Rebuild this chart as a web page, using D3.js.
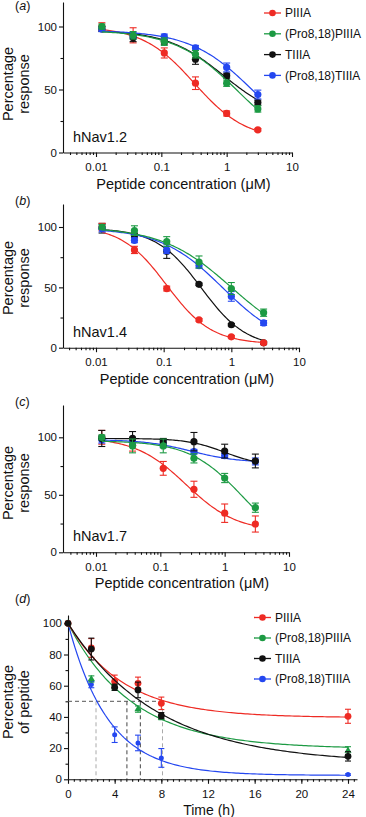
<!DOCTYPE html>
<html>
<head>
<meta charset="utf-8">
<script src="https://cdn.jsdelivr.net/npm/d3@7"></script>
<style>
  body { margin: 0; background: #fff; }
  svg { display: block; font-family: "Liberation Sans", Arial, sans-serif; }
  .axis path, .axis line { stroke: #111; stroke-width: 1.1; }
  .axis text { font-size: 11.5px; fill: #111; }
</style>
</head>
<body>
<div id="main"></div>
<script>
// ---- data ----
var seriesNames = ["PIIIA", "(Pro8,18)PIIIA", "TIIIA", "(Pro8,18)TIIIA"];
var seriesColors = ["#ee2b24", "#1c9a43", "#111111", "#2447f0"];

// peptide concentrations (uM)
var conc = [0.0123, 0.037, 0.111, 0.333, 1, 3];

// hNav1.2 : mean and error (% response), order as seriesNames
var nav12Mean = [[100, 93, 79, 55, 31, 18], [100, 93, 88, 78, 55, 34.6], [98, 91, 88, 74, 61, 39.6], [98, 93, 92, 83, 67.5, 46]];
var nav12Err = [[3, 6, 4, 5, 2, 1], [2, 3, 3, 3, 2.5, 2.5], [2, 3, 2, 4, 2, 2], [2, 2, 2, 2, 3.5, 3.5]];
// fitted curves: [top, bottom, IC50, hill]
var nav12Fit = [[100, 10, 0.32, 1.1], [97, 0, 1.5, 0.9], [97, 25, 0.9, 1], [97, 0, 2.6, 0.9]];

// hNav1.4
var nav14Mean = [[100, 81, 49, 23, 9, 4], [100, 97, 88, 71, 49, 29], [99, 93, 80, 52.5, 19, 4], [99, 89, 81, 68, 42.5, 20.5]];
var nav14Err = [[3, 3, 2, 1, 1, 1], [2, 4, 4, 5, 5, 3], [4, 2, 6, 1, 1, 1], [3, 2, 3, 2, 4, 2]];
var nav14Fit = [[101, 3, 0.11, 1.3], [100, 0, 1, 0.85], [99, 0, 0.36, 1.3], [99, 0, 0.75, 0.95]];

// hNav1.7
var nav17Mean = [[100, 93, 73, 54.8, 34, 24.6], [100, 92.5, 92.5, 81.7, 64.6, 38.8], [99, 99, 96, 96.2, 88, 79.4], [98, 96, 94, 87.5, 84, 79]];
var nav17Err = [[6, 5, 6, 7, 8, 7], [2, 6, 6, 4, 4, 4], [7, 6, 3, 8, 6, 6], [3, 3, 3, 2, 2, 3]];
var nav17Fit = [[100, 18, 0.25, 1.1], [97, 0, 1.9, 1.05], [99, 75, 1, 1.5], [98, 78, 0.3, 1.2]];

// serum stability: time (h) vs % peptide remaining
var times = [0, 2, 4, 6, 8, 24];
var stabMean = [[100, 84.2, 62.8, 61.5, 48.7, 40.4], [100, 64.3, 59, 45, 39.7, 18.4], [100, 83.5, 59, 57.3, 40.8, 14.7], [100, 60.7, 28.6, 23.3, 13.7, 3]];
var stabErr = [[0, 6, 4, 4, 4, 4.5], [0, 2, 2, 2, 1.5, 2.5], [0, 7, 2, 5, 2, 3], [0, 2, 5, 5, 6, 0.5]];
// one-phase decay fits: [plateau, rate k]
var stabFit = [[39.5, 0.21], [19.5, 0.18], [10, 0.13], [2.5, 0.29]];
// half-lives (h) marked with dashed lines
var halfLives = [8.1, 5.05, 6.2, 2.4];

var xTicks = [0.01, 0.1, 1, 10];
var xTickLabels = ["0.01", "0.1", "1", "10"];
var yTicks = [0, 50, 100];
var timeTicks = [0, 4, 8, 12, 16, 20, 24];
var pctTicks = [0, 20, 40, 60, 80, 100];

var W = 366, H = 817;

var svg = d3.select("#main").append("svg")
    .attr("width", W)
    .attr("height", H);
svg.append("rect").attr("width", W).attr("height", H).attr("fill", "#fff");

var hill = function(p){
  return function(c){ return p[1] + (p[0] - p[1]) / (1 + Math.pow(c / p[2], p[3])); };
};

function panelLabel(letter, x, y){
  var t = svg.append("text").attr("x", x).attr("y", y)
    .attr("font-size", 12.5).attr("fill", "#111");
  t.append("tspan").text("(");
  t.append("tspan").attr("font-style", "italic").text(letter);
  t.append("tspan").text(")");
}

function yLabel(lines, cy){
  lines.forEach(function(s, i){
    svg.append("text")
      .attr("transform", "translate(" + (12.5 + i * 16) + "," + cy + ") rotate(-90)")
      .attr("text-anchor", "middle")
      .attr("font-size", 14.5)
      .attr("fill", "#111")
      .text(s);
  });
}

function legend(x0, y0, dy){
  seriesNames.forEach(function(name, i){
    var g = svg.append("g").attr("transform", "translate(" + x0 + "," + (y0 + i * dy) + ")");
    g.append("line").attr("x1", 0).attr("x2", 17).attr("stroke", seriesColors[i]).attr("stroke-width", 1.3);
    g.append("circle").attr("cx", 8.5).attr("r", 3.3).attr("fill", seriesColors[i]);
    g.append("text").attr("x", 21).attr("y", 4.2).attr("font-size", 12).attr("fill", "#111").text(name);
  });
}

// dose-response panel
function dosePanel(c){
  var perUnit = (c.y0 - c.y100) / 100;
  var topVal = (c.y0 - c.yTop) / perUnit;
  var y = d3.scaleLinear().domain([0, topVal]).range([c.y0, c.yTop]);

  var decade = (c.x10 - c.x001) / 3;
  var lo = 0.01 * Math.pow(10, -(c.x001 - c.xLeft) / decade);
  var x = d3.scaleLog().domain([lo, 10]).range([c.xLeft, c.x10]);

  var minor = [];
  [0.001, 0.01, 0.1, 1].forEach(function(d){
    for (var k = 2; k <= 9; k++) { if (d * k >= lo) minor.push(d * k); }
  });

  svg.append("g").attr("class", "axis")
    .attr("transform", "translate(0," + c.y0 + ")")
    .call(d3.axisBottom(x).tickValues(minor).tickSize(2.5).tickSizeOuter(0).tickFormat(""));
  svg.append("g").attr("class", "axis")
    .attr("transform", "translate(0," + c.y0 + ")")
    .call(d3.axisBottom(x).tickValues(xTicks).tickSize(4.5).tickSizeOuter(0).tickPadding(6)
      .tickFormat(function(d, i){ return xTickLabels[i]; }))
    .select(".domain").remove();

  svg.append("g").attr("class", "axis")
    .attr("transform", "translate(" + c.xLeft + ",0)")
    .call(d3.axisLeft(y).tickValues([25, 75]).tickSize(2.5).tickSizeOuter(0).tickFormat(""));
  svg.append("g").attr("class", "axis")
    .attr("transform", "translate(" + c.xLeft + ",0)")
    .call(d3.axisLeft(y).tickValues(yTicks).tickSize(4).tickSizeOuter(0).tickPadding(2))
    .select(".domain").remove();

  svg.append("text").attr("x", (c.xLeft + c.x10) / 2 + 6).attr("y", c.y0 + 36)
    .attr("text-anchor", "middle").attr("font-size", 14.5).attr("fill", "#111")
    .text("Peptide concentration (\u03bcM)");

  svg.append("text").attr("x", c.xLeft + 10).attr("y", c.y0 - 11)
    .attr("font-size", 14.5).attr("fill", "#111").text(c.channel);

  var line = d3.line().x(function(d){ return x(d[0]); }).y(function(d){ return y(d[1]); });
  var grid = d3.range(0, 101).map(function(i){
    return Math.pow(10, Math.log10(conc[0]) + (Math.log10(conc[5]) - Math.log10(conc[0])) * i / 100);
  });

  c.order.forEach(function(s){
    var col = seriesColors[s], f = hill(c.fit[s]);
    svg.append("path")
      .attr("d", line(grid.map(function(v){ return [v, f(v)]; })))
      .attr("fill", "none").attr("stroke", col).attr("stroke-width", 1.2);
    var g = svg.append("g");
    conc.forEach(function(cv, i){
      var m = c.mean[s][i], e = c.err[s][i], px = x(cv);
      g.append("line").attr("x1", px).attr("x2", px).attr("y1", y(m - e)).attr("y2", y(m + e))
        .attr("stroke", col).attr("stroke-width", 1.1);
      [m - e, m + e].forEach(function(v){
        g.append("line").attr("x1", px - 3.5).attr("x2", px + 3.5).attr("y1", y(v)).attr("y2", y(v))
          .attr("stroke", col).attr("stroke-width", 1.1);
      });
      g.append("circle").attr("cx", px).attr("cy", y(m)).attr("r", 3.6).attr("fill", col);
    });
  });

  yLabel(["Percentage", "response"], c.yLabelY);
}

panelLabel("a", 15, 10);
dosePanel({channel: "hNav1.2", mean: nav12Mean, err: nav12Err, fit: nav12Fit,
  yTop: 2, y100: 26.5, y0: 152.5, xLeft: 63, x001: 96, x10: 292, yLabelY: 84, order: [0, 2, 3, 1]});
legend(264, 13, 20.8);

panelLabel("b", 15, 205);
dosePanel({channel: "hNav1.4", mean: nav14Mean, err: nav14Err, fit: nav14Fit,
  yTop: 204, y100: 227, y0: 347.7, xLeft: 63, x001: 96, x10: 299, yLabelY: 278, order: [2, 0, 3, 1]});

panelLabel("c", 15, 406);
dosePanel({channel: "hNav1.7", mean: nav17Mean, err: nav17Err, fit: nav17Fit,
  yTop: 405, y100: 437.3, y0: 552.3, xLeft: 63, x001: 96, x10: 289, yLabelY: 483, order: [0, 3, 2, 1]});

// ---- panel d: stability ----
panelLabel("d", 15, 603);
(function(){
  var y0 = 779.3, y100 = 623.3, yTop = 615;
  var topVal = (y0 - yTop) / ((y0 - y100) / 100);
  var y = d3.scaleLinear().domain([0, topVal]).range([y0, yTop]);
  var xr = (348 - 68) / 24;
  var x = d3.scaleLinear().domain([0, (357 - 68) / xr]).range([68, 357]);

  svg.append("g").attr("class", "axis")
    .attr("transform", "translate(0," + y0 + ")")
    .call(d3.axisBottom(x).tickValues(d3.range(0.5, 24.6, 0.5)).tickSize(2.5).tickSizeOuter(0).tickFormat(""));
  svg.append("g").attr("class", "axis")
    .attr("transform", "translate(0," + y0 + ")")
    .call(d3.axisBottom(x).tickValues(timeTicks).tickSize(4.5).tickSizeOuter(0).tickPadding(6))
    .select(".domain").remove();
  svg.append("g").attr("class", "axis")
    .attr("transform", "translate(68,0)")
    .call(d3.axisLeft(y).tickValues(d3.range(10, 101, 20)).tickSize(2.5).tickSizeOuter(0).tickFormat(""));
  svg.append("g").attr("class", "axis")
    .attr("transform", "translate(68,0)")
    .call(d3.axisLeft(y).tickValues(pctTicks).tickSize(4).tickSizeOuter(0).tickPadding(2))
    .select(".domain").remove();

  svg.append("text").attr("x", 209).attr("y", 815).attr("text-anchor", "middle")
    .attr("font-size", 14).attr("fill", "#111").text("Time (h)");
  yLabel(["Percentage", "of peptide"], 702);

  // half-life guides
  var guideColors = ["#aaaaaa", "#444444", "#444444", "#aaaaaa"];
  svg.append("line").attr("x1", x(0)).attr("x2", x(d3.max(halfLives))).attr("y1", y(50)).attr("y2", y(50))
    .attr("stroke", "#555").attr("stroke-width", 1).attr("stroke-dasharray", "4,3");
  halfLives.forEach(function(t, i){
    svg.append("line").attr("x1", x(t)).attr("x2", x(t)).attr("y1", y(50)).attr("y2", y(0))
      .attr("stroke", guideColors[i]).attr("stroke-width", 1).attr("stroke-dasharray", "4,3");
  });

  var line = d3.line().x(function(d){ return x(d[0]); }).y(function(d){ return y(d[1]); });
  var grid = d3.range(0, 24.01, 0.2);
  [3, 1, 0, 2].forEach(function(s){
    var col = seriesColors[s], p = stabFit[s];
    svg.append("path")
      .attr("d", line(grid.map(function(t){ return [t, p[0] + (100 - p[0]) * Math.exp(-p[1] * t)]; })))
      .attr("fill", "none").attr("stroke", col).attr("stroke-width", 1.2);
    times.forEach(function(t, i){
      var m = stabMean[s][i], e = stabErr[s][i], px = x(t);
      if (e > 0) {
        svg.append("line").attr("x1", px).attr("x2", px).attr("y1", y(m - e)).attr("y2", y(m + e))
          .attr("stroke", col).attr("stroke-width", 1.1);
        [m - e, m + e].forEach(function(v){
          svg.append("line").attr("x1", px - 3).attr("x2", px + 3).attr("y1", y(v)).attr("y2", y(v))
            .attr("stroke", col).attr("stroke-width", 1.1);
        });
      }
      if (s === 1) {
        svg.append("path").attr("transform", "translate(" + px + "," + y(m) + ")")
          .attr("d", d3.symbol(d3.symbolTriangle, 22)()).attr("fill", col);
      } else {
        svg.append("circle").attr("cx", px).attr("cy", y(m)).attr("r", s === 3 ? 2.5 : 3.4).attr("fill", col);
      }
    });
  });

  legend(254, 617.5, 20.5);
})();
</script>
</body>
</html>
